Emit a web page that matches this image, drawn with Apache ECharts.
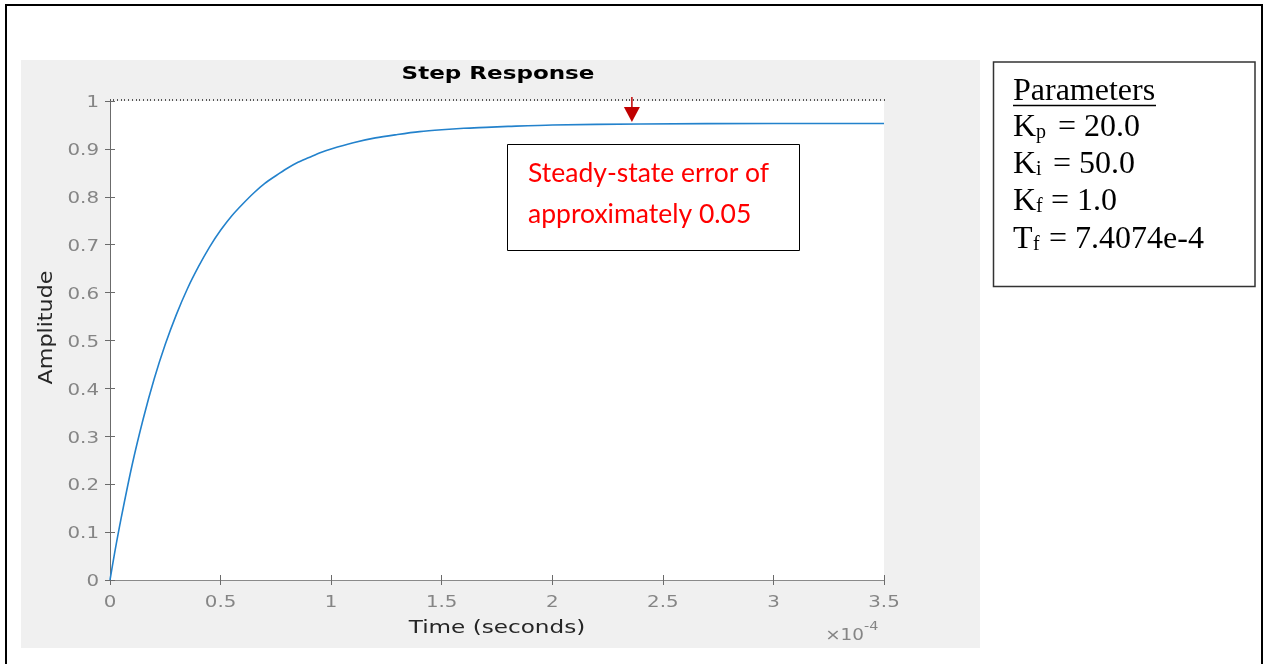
<!DOCTYPE html>
<html>
<head>
<meta charset="utf-8">
<title>Step Response</title>
<script src="https://cdn.jsdelivr.net/npm/echarts@6/dist/echarts.min.js"></script>
<style>
  html, body { margin: 0; padding: 0; background: #fff; }
  #chart { width: 1265px; height: 664px; }
</style>
</head>
<body>
<div id="chart"></div>
<script>
// Time axis (units of 1e-4 s) and the closed-loop step response amplitude
const tValues = [0, 0.02, 0.05, 0.1, 0.15, 0.2, 0.25, 0.3, 0.35, 0.4, 0.45, 0.5, 0.55, 0.6, 0.65, 0.7, 0.75, 0.8, 0.85, 0.9, 0.95, 1.0, 1.1, 1.2, 1.3, 1.4, 1.5, 1.6, 1.7, 1.8, 2.0, 2.4, 3.0, 3.5];
const amplitude = [0, 0.054, 0.128, 0.240, 0.336, 0.420, 0.492, 0.554, 0.608, 0.654, 0.695, 0.730, 0.760, 0.785, 0.808, 0.828, 0.844, 0.859, 0.872, 0.882, 0.892, 0.900, 0.913, 0.923, 0.930, 0.936, 0.940, 0.943, 0.945, 0.947, 0.950, 0.952, 0.953, 0.953];

const xTicks = [0, 0.5, 1, 1.5, 2, 2.5, 3, 3.5];
const xTickLabels = ['0', '0.5', '1', '1.5', '2', '2.5', '3', '3.5'];
const yTicks = [0, 0.1, 0.2, 0.3, 0.4, 0.5, 0.6, 0.7, 0.8, 0.9, 1];
const yTickLabels = ['0', '0.1', '0.2', '0.3', '0.4', '0.5', '0.6', '0.7', '0.8', '0.9', '1'];

const titleText = 'Step Response';
const xName = 'Time (seconds)';
const yName = 'Amplitude';
const xExponent = '×10';
const xExponentPow = '-4';

const noteLines = ['Steady-state error of', 'approximately 0.05'];
const noteArrowAt = [2.36, 1];

const paramHeading = 'Parameters';
const paramSymbols = ['K', 'K', 'K', 'T'];
const paramSubs = ['p', 'i', 'f', 'f'];
const paramValues = ['= 20.0', '= 50.0', '= 1.0', '= 7.4074e-4'];

const AXIS = '#6b6b6b';
const LABEL = '#858585';
const MFONT = '"DejaVu Sans"';
const STRETCH = 1.2;

const chart = echarts.init(document.getElementById('chart'), null, { renderer: 'canvas' });

const line = { lineStyle: { color: AXIS, width: 1 } };

chart.setOption({
  backgroundColor: '#ffffff',
  animation: false,
  grid: { left: 110, top: 101, width: 774, height: 479, show: true, backgroundColor: '#ffffff', borderWidth: 0 },
  xAxis: [
    {
      type: 'value', position: 'bottom', min: 0, max: 3.5, interval: 0.5,
      axisLine: { show: true, ...line }, axisTick: { show: true, inside: true, length: 5, ...line },
      axisLabel: { show: false }, splitLine: { show: false }
    },
    {
      type: 'value', position: 'top', min: 0, max: 3.5, interval: 0.5,
      axisLine: { show: true, lineStyle: { color: '#8a8a8a', width: 1 } },
      axisTick: { show: true, inside: true, length: 5, ...line },
      axisLabel: { show: false }, splitLine: { show: false }
    },
    {
      type: 'value', position: 'top', min: 0, max: 3.5, interval: 0.5,
      axisLine: { show: false },
      axisTick: { show: true, inside: false, length: 2, lineStyle: { color: '#555', width: 1 } },
      minorTick: { show: true, splitNumber: 30, length: 2, lineStyle: { color: '#555', width: 1 } },
      axisLabel: { show: false }, splitLine: { show: false }
    }
  ],
  yAxis: [
    {
      type: 'value', position: 'left', min: 0, max: 1, interval: 0.1,
      axisLine: { show: true, ...line }, axisTick: { show: true, inside: true, length: 5, ...line },
      axisLabel: { show: false }, splitLine: { show: false }
    },
    {
      type: 'value', position: 'right', min: 0, max: 1, interval: 0.1,
      axisLine: { show: true, ...line }, axisTick: { show: true, inside: true, length: 5, ...line },
      axisLabel: { show: false }, splitLine: { show: false }
    }
  ],
  series: [{
    type: 'line',
    xAxisIndex: 0, yAxisIndex: 0,
    data: tValues.map((t, i) => [t, amplitude[i]]),
    showSymbol: false,
    smooth: 0.3,
    lineStyle: { color: '#2382cc', width: 1.6 },
    z: 5
  }]
});

// Text drawn in the plot's own wide sans-serif style
function mtext(id, str, x, y, size, opts) {
  opts = opts || {};
  return {
    type: 'text', id: id, x: x, y: y, rotation: opts.rotation || 0,
    scaleX: opts.stretch || STRETCH, z: 20,
    style: {
      text: str, x: 0, y: 0,
      font: (opts.bold ? 'bold ' : '') + size + 'px ' + MFONT,
      fill: opts.color || LABEL,
      align: opts.align || 'center', textAlign: opts.align || 'center',
      verticalAlign: 'middle', textVerticalAlign: 'middle'
    }
  };
}

function drawDecor() {
  const g = [];
  // page frame and figure panel
  g.push({ type: 'rect', id: 'frame', z: -10, shape: { x: 6, y: 5, width: 1256, height: 700 },
    style: { fill: '#ffffff', stroke: '#000', lineWidth: 2 } });
  g.push({ type: 'rect', id: 'panel', z: -9, shape: { x: 21, y: 60, width: 959, height: 588 },
    style: { fill: '#f0f0f0', stroke: null } });

  const x0 = chart.convertToPixel({ xAxisIndex: 0 }, 0);
  const x1 = chart.convertToPixel({ xAxisIndex: 0 }, 3.5);
  const yBottom = chart.convertToPixel({ yAxisIndex: 0 }, 0);
  const yTop = chart.convertToPixel({ yAxisIndex: 0 }, 1);

  xTicks.forEach((v, i) => {
    g.push(mtext('xt' + i, xTickLabels[i], chart.convertToPixel({ xAxisIndex: 0 }, v), yBottom + 23, 16.5));
  });
  yTicks.forEach((v, i) => {
    g.push(mtext('yt' + i, yTickLabels[i], x0 - 11, chart.convertToPixel({ yAxisIndex: 0 }, v) + 2, 16.5,
      { align: 'right', stretch: 1.2 }));
  });
  g.push(mtext('title', titleText, (x0 + x1) / 2 + 1, yTop - 27, 18, { bold: true, color: '#000', stretch: 1.28 }));
  g.push(mtext('xname', xName, (x0 + x1) / 2, yBottom + 48, 18.5, { color: '#262626', stretch: 1.25 }));
  g.push(mtext('yname', yName, 47, (yTop + yBottom) / 2 - 13, 19, { color: '#262626', rotation: Math.PI / 2, stretch: 1.17 }));
  g.push(mtext('xexp', xExponent, x1 - 20, yBottom + 56, 16, { align: 'right', stretch: 1.15 }));
  g.push(mtext('xexpp', xExponentPow, x1 - 20, yBottom + 47, 12.5, { align: 'left', stretch: 1.15 }));

  // annotation arrow pointing at the settled response
  const ax = chart.convertToPixel({ xAxisIndex: 0 }, noteArrowAt[0]);
  const ay = chart.convertToPixel({ yAxisIndex: 0 }, noteArrowAt[1]);
  g.push({ type: 'line', id: 'arrowStem', z: 30, shape: { x1: ax, y1: ay - 4, x2: ax, y2: ay + 7 },
    style: { stroke: '#c00000', lineWidth: 1.5 } });
  g.push({ type: 'polygon', id: 'arrowHead', z: 30,
    shape: { points: [[ax - 8, ay + 6], [ax + 8, ay + 6], [ax, ay + 21]] },
    style: { fill: '#c00000' } });

  // note box
  g.push({ type: 'rect', id: 'noteBox', z: 30, shape: { x: 507.5, y: 144.5, width: 292, height: 106 },
    style: { fill: '#fff', stroke: '#000', lineWidth: 1 } });
  noteLines.forEach((s, i) => {
    g.push({ type: 'text', id: 'note' + i, z: 31, x: 528, y: 173 + i * 41,
      style: { text: s, x: 0, y: 0, font: '26.5px Lato', fill: '#ff0000',
        align: 'left', textAlign: 'left', verticalAlign: 'middle', textVerticalAlign: 'middle' } });
  });

  // parameter box
  g.push({ type: 'rect', id: 'paramBox', z: 30, shape: { x: 993.5, y: 62, width: 261.5, height: 224.5 },
    style: { fill: '#fff', stroke: '#333', lineWidth: 1.5 } });
  const serif = '"Liberation Serif"';
  const tx = 1013;
  g.push({ type: 'text', id: 'pHead', z: 31, x: tx, y: 92,
    style: { text: paramHeading, x: 0, y: 0, font: '32px ' + serif, fill: '#000',
      align: 'left', textAlign: 'left', verticalAlign: 'middle', textVerticalAlign: 'middle' } });
  g.push({ type: 'line', id: 'pHeadU', z: 31, shape: { x1: tx, y1: 105.5, x2: tx + 143, y2: 105.5 },
    style: { stroke: '#000', lineWidth: 1.5 } });
  const rowY = [128, 165, 202, 240];
  const eqX = [1058, 1053, 1051, 1049];
  paramSymbols.forEach((s, i) => {
    const symW = s === 'T' ? 20 : 23;
    g.push({ type: 'text', id: 'pSym' + i, z: 31, x: tx, y: rowY[i],
      style: { text: s, x: 0, y: 0, font: '32px ' + serif, fill: '#000',
        align: 'left', textAlign: 'left', verticalAlign: 'middle', textVerticalAlign: 'middle' } });
    g.push({ type: 'text', id: 'pSub' + i, z: 31, x: tx + symW, y: rowY[i] + 5,
      style: { text: paramSubs[i], x: 0, y: 0, font: '20px ' + serif, fill: '#000',
        align: 'left', textAlign: 'left', verticalAlign: 'middle', textVerticalAlign: 'middle' } });
    g.push({ type: 'text', id: 'pVal' + i, z: 31, x: eqX[i], y: rowY[i],
      style: { text: paramValues[i], x: 0, y: 0, font: '32px ' + serif, fill: '#000',
        align: 'left', textAlign: 'left', verticalAlign: 'middle', textVerticalAlign: 'middle' } });
  });

  chart.setOption({ graphic: g });
}

drawDecor();
</script>
</body>
</html>
